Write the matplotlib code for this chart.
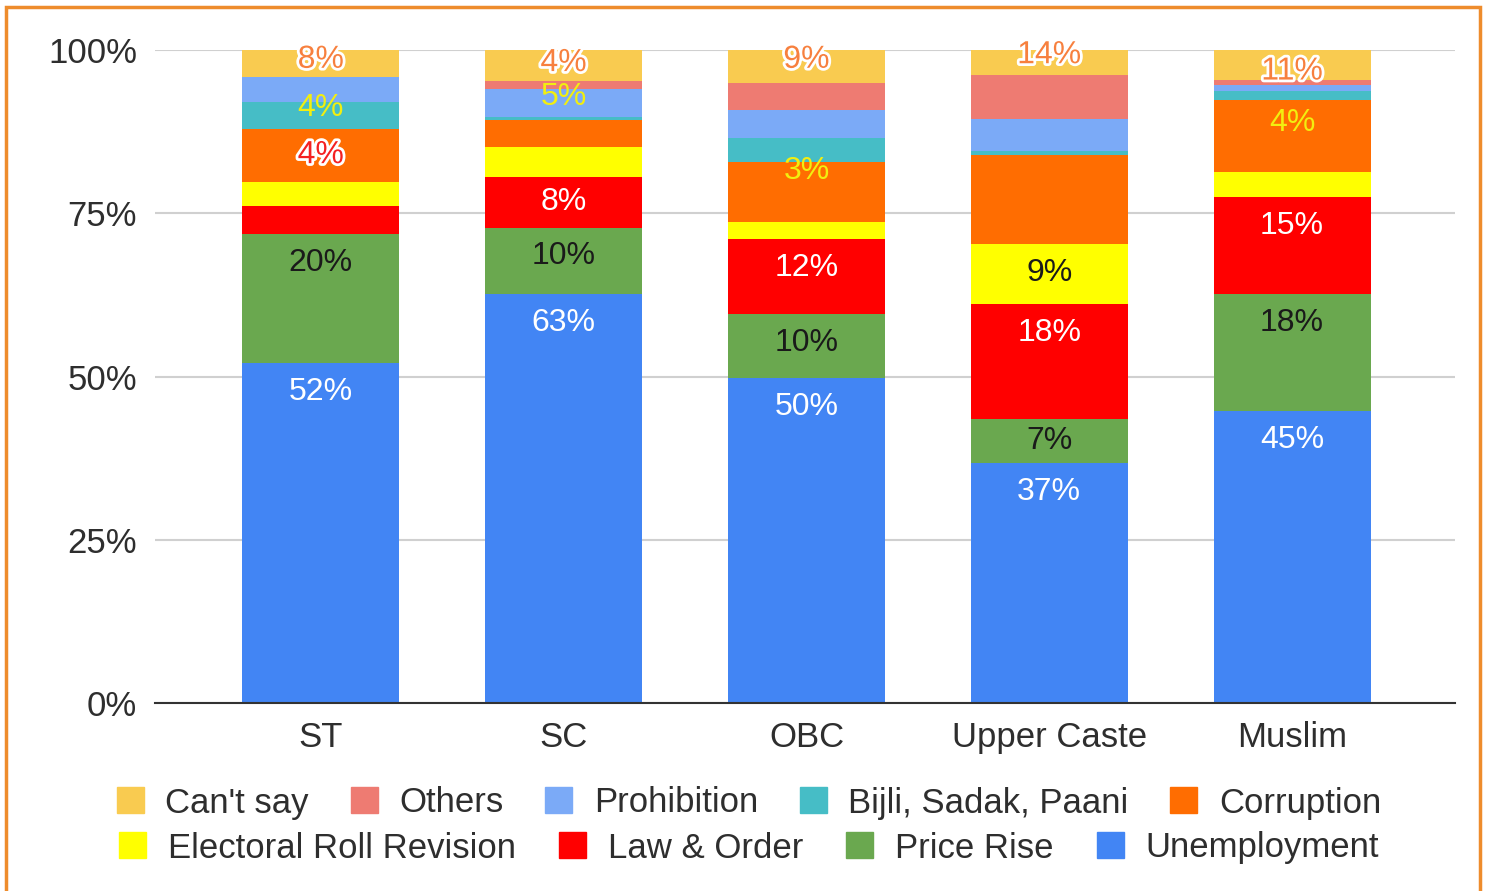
import matplotlib
matplotlib.use("Agg")
import matplotlib.pyplot as plt
import matplotlib.patheffects as pe
from matplotlib.patches import Patch, Rectangle
import numpy as np

plt.rcParams["font.family"] = ["Liberation Sans", "DejaVu Sans"]

groups = ["ST", "SC", "OBC", "Upper Caste", "Muslim"]

# stacked bottom -> top, % of respondents
unemployment = [52, 62.6, 49.7, 36.7, 44.7]
price_rise = [19.8, 10.2, 9.9, 6.8, 17.9]
law_order = [4.3, 7.8, 11.4, 17.6, 14.9]
electoral_roll = [3.7, 4.5, 2.7, 9.2, 3.8]
corruption = [8.1, 4.2, 9.2, 13.6, 11.0]
bijli = [4.1, 0.4, 3.7, 0.6, 1.4]
prohibition = [3.8, 4.3, 4.2, 4.9, 1.0]
others = [0.0, 1.2, 4.2, 6.8, 0.7]
cant_say = [4.2, 4.8, 5.0, 3.8, 4.6]

series = [
    ("Unemployment", unemployment, "#4285F4"),
    ("Price Rise", price_rise, "#6AA84F"),
    ("Law & Order", law_order, "#FF0000"),
    ("Electoral Roll Revision", electoral_roll, "#FFFF00"),
    ("Corruption", corruption, "#FF6D01"),
    ("Bijli, Sadak, Paani", bijli, "#46BDC6"),
    ("Prohibition", prohibition, "#7BAAF7"),
    ("Others", others, "#EE7B72"),
    ("Can't say", cant_say, "#F9CB50"),
]

# labels sitting inside their own segment
unemp_labels = ["52%", "63%", "50%", "37%", "45%"]
price_labels = ["20%", "10%", "10%", "7%", "18%"]
law_labels = ["", "8%", "12%", "18%", "15%"]
elec_labels = ["", "", "", "9%", ""]

# labels pushed up out of small segments (bar index, text, y%)
law_moved = [(0, "4%", 83.9)]
elec_moved = [(0, "4%", 91.1), (1, "5%", 92.8), (2, "3%", 81.4), (4, "4%", 88.8)]
corr_moved = [(0, "8%", 98.5), (1, "4%", 98.0), (2, "9%", 98.5),
              (3, "14%", 99.2), (4, "11%", 96.7)]

fig = plt.figure(figsize=(14.92, 8.91), dpi=100)
ax = fig.add_axes([155 / 1492, 188 / 891, 1300 / 1492, 653 / 891])

x = np.arange(len(groups))
width = 0.646
bottom = np.zeros(len(groups))
tops = {}
for name, vals, col in series:
    vals = np.array(vals)
    ax.bar(x, vals, width, bottom=bottom, color=col, zorder=2, linewidth=0)
    tops[name] = (bottom + vals, vals)
    bottom = bottom + vals


def inside(name, labels, color):
    top, h = tops[name]
    for i, lab in enumerate(labels):
        if lab:
            ax.text(x[i], top[i] - min(4.4, h[i] / 2), lab, ha="center",
                    va="center", fontsize=23, color=color, zorder=4)


inside("Unemployment", unemp_labels, "white")
inside("Price Rise", price_labels, "#1a1a1a")
inside("Law & Order", law_labels, "white")
inside("Electoral Roll Revision", elec_labels, "#1a1a1a")

halo = [pe.withStroke(linewidth=4, foreground="white")]
for i, lab, yy in corr_moved:
    ax.text(x[i], yy, lab, ha="center", va="center", fontsize=23,
            color="#F7803E", path_effects=halo, zorder=5)
for i, lab, yy in law_moved:
    ax.text(x[i], yy, lab, ha="center", va="center", fontsize=23,
            color="#F42020", path_effects=halo, zorder=5)
for i, lab, yy in elec_moved:
    ax.text(x[i], yy, lab, ha="center", va="center", fontsize=23,
            color="#F2EE10", zorder=5)

ax.set_xlim(-0.683, 4.671)
ax.set_ylim(0, 100)
ax.set_yticks([0, 25, 50, 75, 100])
ax.set_yticklabels(["0%", "25%", "50%", "75%", "100%"])
ax.set_xticks(x)
ax.set_xticklabels(groups)
ax.tick_params(length=0, labelsize=25, labelcolor="#2e2e2e")
ax.tick_params(axis="y", pad=13)
ax.tick_params(axis="x", pad=13)
ax.grid(axis="y", color="#d0d0d0", linewidth=1.5, zorder=0)
for s in ["top", "right", "left"]:
    ax.spines[s].set_visible(False)
ax.spines["bottom"].set_color("#333333")
ax.spines["bottom"].set_linewidth(1.5)
ax.spines["bottom"].set_zorder(3)

cols = {n: c for n, _, c in series}
row1 = ["Can't say", "Others", "Prohibition", "Bijli, Sadak, Paani", "Corruption"]
row2 = ["Electoral Roll Revision", "Law & Order", "Price Rise", "Unemployment"]
for row, yy, cs in [(row1, 1 - 803 / 891, 1.2), (row2, 1 - 848 / 891, 1.25)]:
    handles = [Patch(color=cols[n], label=n) for n in row]
    fig.legend(handles=handles, loc="center", bbox_to_anchor=(0.502, yy),
               ncol=len(row), frameon=False, fontsize=25, handlelength=0.78,
               handleheight=0.78, handletextpad=0.62, columnspacing=cs,
               labelcolor="#2e2e2e", borderaxespad=0, borderpad=0)

fig.patches.append(Rectangle((6 / 1492, -0.05), 1474 / 1492, 1.05 - 7 / 891,
                             transform=fig.transFigure, fill=False,
                             edgecolor="#EE8C2C", linewidth=2.5))

fig.savefig("out.png", dpi=100)
